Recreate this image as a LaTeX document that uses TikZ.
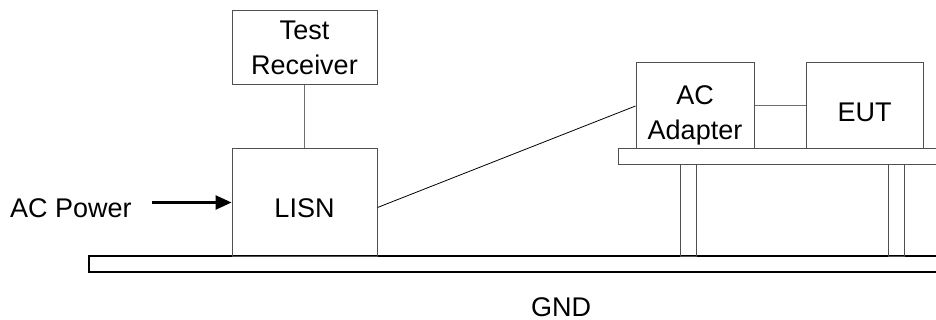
\documentclass[tikz,border=0pt]{standalone}
\usepackage{fontspec}
\setmainfont{Liberation Sans}
\usepackage{tikz}
\usetikzlibrary{arrows.meta,positioning}
\usepackage{xcolor}
\definecolor{boxgray}{RGB}{80,80,80}
\definecolor{wiregray}{RGB}{110,110,110}

\begin{document}
\begin{tikzpicture}[
  x=1pt, y=-1pt,
  every node/.style={font=\fontsize{27}{35}\selectfont, text=black, inner sep=0pt},
  unit/.style={draw=boxgray, line width=1pt, minimum width=#1, align=center},
  label/.style={anchor=base},
  wire/.style={draw=wiregray, line width=1pt},
  plate/.style={draw=black, line width=1.2pt},
  leg/.style={draw=boxgray, line width=1pt},
  arrow/.style={-{Triangle[length=16pt,width=14pt]}, line width=2.6pt, black}
]
\useasboundingbox (0,0) rectangle (936,320);

% ground plate and table
\draw[plate] (89,256) rectangle (945,272);
\draw[plate, draw=boxgray, line width=1pt] (618,149) rectangle (945,165);
\draw[leg] (680,165) rectangle (696,256);
\draw[leg] (888,165) rectangle (904,256);

% units
\node[unit=145pt, minimum height=74pt]  (recv)    at (304.5,48)  {};
\node[label] at (304.5,40) {Test};
\node[label] at (304.5,75) {Receiver};
\node[unit=145pt, minimum height=107pt] (lisn)    at (304.5,202.5) {};
\node[label] at (304.5,218) {LISN};
\node[unit=118pt, minimum height=86pt]  (adapter) at (695,106)   {};
\node[label] at (695,105) {AC};
\node[label] at (695,140) {Adapter};
\node[unit=117pt, minimum height=86pt]  (eut)     at (864.5,106) {};
\node[label] at (864.5,122) {EUT};

\node[label] (power) at (71,218) {AC Power};
\node[label] (gnd)   at (561,316) {GND};

% connections
\draw[wire] (recv.south) -- (lisn.north);
\draw[wire, line width=0.8pt, draw=black] ([yshift=-5pt]lisn.east) -- (adapter.west);
\draw[wire] (adapter.east) -- (eut.west);
\draw[arrow] ([xshift=20pt]power.east |- lisn.west) -- (lisn.west);
\end{tikzpicture}
\end{document}
